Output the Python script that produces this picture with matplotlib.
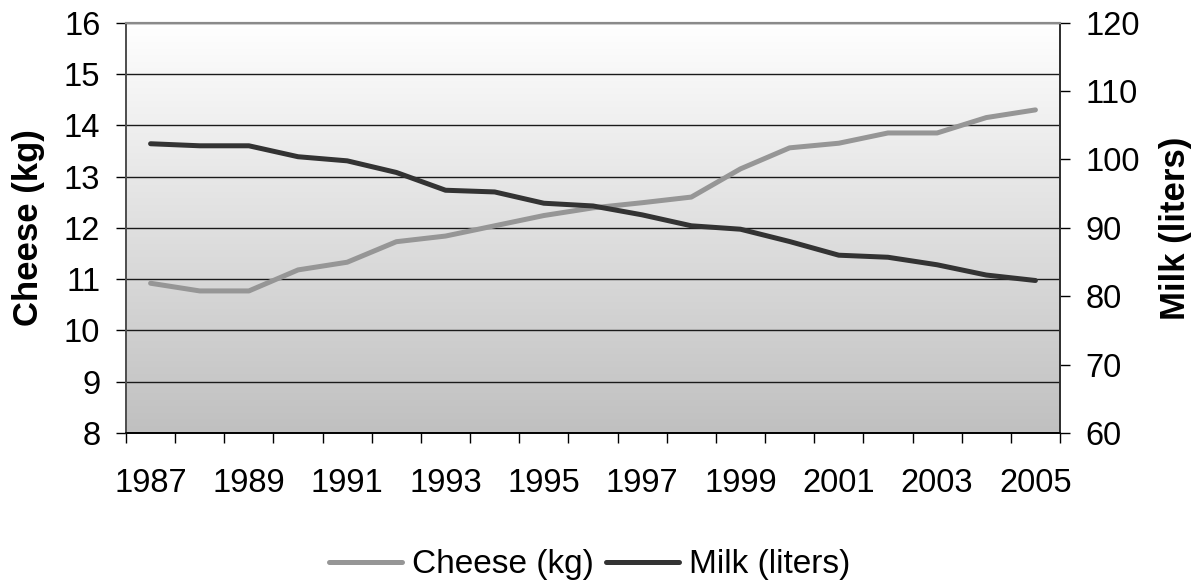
import matplotlib
matplotlib.use("Agg")
import matplotlib.pyplot as plt
import numpy as np
from matplotlib.colors import LinearSegmentedColormap

years = list(range(1987, 2006))
cheese_kg = [10.92, 10.77, 10.77, 11.18, 11.33, 11.73, 11.84, 12.04, 12.24, 12.39,
             12.49, 12.60, 13.15, 13.56, 13.65, 13.85, 13.85, 14.15, 14.30]
milk_liters = [102.3, 102.0, 102.0, 100.4, 99.8, 98.1, 95.5, 95.25, 93.6, 93.2,
               91.9, 90.3, 89.8, 88.0, 86.0, 85.7, 84.6, 83.1, 82.3]
year_labels = [str(y) if (y - 1987) % 2 == 0 else "" for y in years]
cheese_ticks = list(range(8, 17))
milk_ticks = list(range(60, 121, 10))

plt.rcParams['font.family'] = ['Liberation Sans', 'DejaVu Sans']

W, H = 1196, 586
fig = plt.figure(figsize=(W / 100, H / 100), dpi=100)
left, right, top, bottom = 126, 1060, 22.7, 433
ax = fig.add_axes([left / W, 1 - bottom / H, (right - left) / W, (bottom - top) / H])
ax2 = ax.twinx()

# gradient background
grad = np.linspace(0, 1, 256).reshape(-1, 1)
cmap = LinearSegmentedColormap.from_list("g", ["#ffffff", "#c0c0c0"])
ax.imshow(grad, aspect="auto", cmap=cmap, extent=[0, 1, 0, 1], transform=ax.transAxes,
          zorder=0, origin="upper")

x = np.arange(len(years))
ax.set_xlim(-0.5, len(years) - 0.5)
ax.set_ylim(8, 16)
ax2.set_ylim(60, 120)

ax.set_yticks(cheese_ticks)
ax.yaxis.grid(True, color="#1a1a1a", linewidth=1.0, zorder=1)

l1, = ax.plot(x, cheese_kg, color="#969696", linewidth=3.6, solid_capstyle="round",
              label="Cheese (kg)", zorder=3)
l2, = ax2.plot(x, milk_liters, color="#333333", linewidth=3.6, solid_capstyle="round",
               label="Milk (liters)", zorder=3)

ax2.patch.set_visible(False)

TICK_FS = 23.5
ax.set_xticks(np.arange(-0.5, len(years), 1.0))
ax.set_xticklabels([])
ax.set_xticks(x, minor=True)
ax.set_xticklabels(year_labels, minor=True, fontsize=TICK_FS)
ax.tick_params(axis="x", which="major", direction="out", length=7.5, width=1.0, color="#000000")
ax.tick_params(axis="x", which="minor", length=0, pad=25)
ax.tick_params(axis="y", direction="out", length=7.5, width=1.0, labelsize=TICK_FS, pad=11)
ax2.set_yticks(milk_ticks)
ax2.tick_params(axis="y", direction="out", length=7.5, width=1.0, labelsize=TICK_FS, pad=11)

for a in (ax, ax2):
    a.spines["top"].set_color("#8a8a8a")
    a.spines["top"].set_linewidth(1.5)
    a.spines["bottom"].set_color("#000000")
    a.spines["bottom"].set_linewidth(1.2)
    a.spines["left"].set_color("#505050")
    a.spines["left"].set_linewidth(1.3)
    a.spines["right"].set_color("#303030")
    a.spines["right"].set_linewidth(1.3)

ymid = 1 - 228 / H
fig.text(29 / W, ymid, "Cheese (kg)", rotation=90, ha="center", va="center",
         fontsize=25, fontweight="bold")
fig.text(1176 / W, ymid, "Milk (liters)", rotation=90, ha="center", va="center",
         fontsize=25, fontweight="bold")

fig.legend(handles=[l1, l2], loc="center", bbox_to_anchor=(0.493, 1 - 565 / H), ncol=2,
           frameon=False, fontsize=24, handlelength=2.2, handletextpad=0.3,
           columnspacing=0.36, borderpad=0, borderaxespad=0)

fig.savefig("out.png", dpi=100)
